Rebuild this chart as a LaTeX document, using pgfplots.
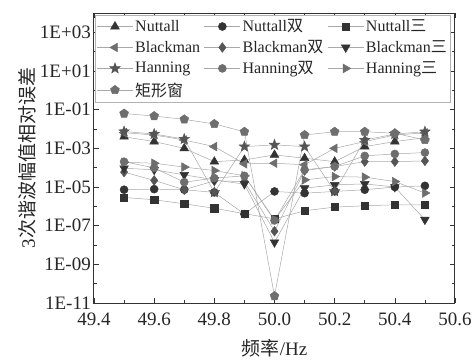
\documentclass[border=0pt]{standalone}
\usepackage{fontspec}
\setmainfont{Liberation Serif}
\newfontfamily\cjk{Noto Sans CJK SC}
\usepackage{pgfplots}
\pgfplotsset{compat=1.18}
\usetikzlibrary{plotmarks}

\pgfdeclareplotmark{fstar}{%
  \pgfpathmoveto{\pgfpointpolar{90}{\pgfplotmarksize}}%
  \pgfpathlineto{\pgfpointpolar{126}{0.42\pgfplotmarksize}}%
  \pgfpathlineto{\pgfpointpolar{162}{\pgfplotmarksize}}%
  \pgfpathlineto{\pgfpointpolar{198}{0.42\pgfplotmarksize}}%
  \pgfpathlineto{\pgfpointpolar{234}{\pgfplotmarksize}}%
  \pgfpathlineto{\pgfpointpolar{270}{0.42\pgfplotmarksize}}%
  \pgfpathlineto{\pgfpointpolar{306}{\pgfplotmarksize}}%
  \pgfpathlineto{\pgfpointpolar{342}{0.42\pgfplotmarksize}}%
  \pgfpathlineto{\pgfpointpolar{18}{\pgfplotmarksize}}%
  \pgfpathlineto{\pgfpointpolar{54}{0.42\pgfplotmarksize}}%
  \pgfpathclose
  \pgfusepathqfillstroke
}

\definecolor{mdark}{HTML}{333333}
\definecolor{mmid}{HTML}{555555}
\definecolor{mgrey}{HTML}{6E6E6E}
\definecolor{lgrey}{HTML}{A8A8A8}

\pgfplotstableread{
x      nut      nut2     nut3     bla      bla2     bla3     han      han2     han3     rect
49.5   3.98e-3  7.24e-6  2.88e-6  6.46e-3  5.89e-5  9.33e-5  7.41e-3  2.04e-4  1.91e-4  6.31e-2
49.6   2.24e-3  7.76e-6  2.19e-6  4.90e-3  2.19e-5  7.76e-5  5.50e-3  9.77e-5  1.70e-4  4.68e-2
49.7   1.00e-3  7.24e-6  1.35e-6  2.69e-3  7.24e-6  4.27e-5  3.02e-3  1.78e-5  1.07e-4  3.16e-2
49.8   2.04e-4  5.25e-6  7.94e-7  1.23e-3  2.09e-5  2.34e-5  5.25e-6  2.88e-5  7.08e-5  1.82e-2
49.9   2.51e-4  3.98e-7  4.17e-7  1.58e-4  1.91e-5  1.41e-5  1.23e-3  3.80e-5  3.80e-5  7.24e-3
50.0   4.57e-4  5.89e-6  2.24e-7  1.70e-4  5.13e-8  1.38e-8  1.51e-3  1.86e-7  2.00e-7  2.29e-11
50.1   3.09e-4  4.79e-6  5.89e-7  1.41e-4  7.08e-5  8.71e-6  1.23e-3  7.76e-5  2.34e-5  4.90e-3
50.2   2.04e-4  5.89e-6  9.12e-7  1.00e-3  1.15e-4  1.29e-5  5.89e-6  1.15e-4  3.47e-5  7.24e-3
50.3   1.23e-3  7.24e-6  1.07e-6  2.24e-3  2.04e-4  1.45e-5  2.69e-3  4.07e-4  3.24e-5  7.24e-3
50.4   2.24e-3  1.00e-5  1.20e-6  4.90e-3  2.04e-4  1.00e-5  5.50e-3  5.13e-4  1.91e-5  6.03e-3
50.5   3.55e-3  1.15e-5  1.20e-6  6.31e-3  2.24e-4  2.04e-7  7.24e-3  6.03e-4  4.90e-6  2.69e-3
}\datatable

\begin{document}
\begin{tikzpicture}
\begin{axis}[
  name=ax,
  width=361pt, height=290pt, scale only axis,
  xmin=49.4, xmax=50.6,
  ymode=log, ymin=1e-11, ymax=1e4,
  xtick={49.4,49.6,49.8,50.0,50.2,50.4,50.6},
  xticklabels={49.4,49.6,49.8,50.0,50.2,50.4,50.6},
  minor xtick={49.5,49.7,49.9,50.1,50.3,50.5},
  ytick={1e-11,1e-9,1e-7,1e-5,1e-3,1e-1,1e1,1e3},
  yticklabels={1E-11,1E-09,1E-07,1E-05,1E-03,1E-01,1E+01,1E+03},
  minor ytick={1e-10,1e-8,1e-6,1e-4,1e-2,1e0,1e2},
  tick label style={font=\fontsize{19}{21}\selectfont, black!85},
  xticklabel style={yshift=-6pt},
  yticklabel style={inner xsep=3pt},
  label style={font=\fontsize{19}{21}\selectfont, black!85, inner sep=1pt},
  xlabel={{\cjk 频率}/Hz},
  ylabel={3{\cjk 次谐波幅值相对误差}},
  xlabel style={at={(axis description cs:0.5,-0.157)}, anchor=center},
  ylabel style={at={(axis description cs:-0.184,0.5)}, anchor=center},
  axis line style={line width=1pt, black!80},
  major tick length=5pt, minor tick length=3pt,
  tick style={black!80, line width=0.6pt},
  every axis plot/.append style={line width=0.5pt, color=lgrey},
  legend columns=3,
  legend cell align=left,
  legend style={at={(0.004,0.994)}, anchor=north west, draw=gray!60, line width=0.6pt,
    font=\fontsize{16}{18}\selectfont, text=black!85, inner sep=1pt, row sep=0pt,
    nodes={inner ysep=3.6pt, inner xsep=2pt},
    /tikz/every even column/.append style={column sep=2pt}},
  legend image code/.code={\draw[mark repeat=2,mark phase=2] plot coordinates {(0pt,0pt)(18pt,0pt)(36pt,0pt)};},
]
\addplot[mark=triangle*, mark size=5pt, mark options={draw=mdark, fill=mdark}] table[x=x,y=nut] {\datatable};
\addlegendentry{Nuttall}
\addplot[mark=*, mark size=4pt, mark options={draw=mdark, fill=mdark}] table[x=x,y=nut2] {\datatable};
\addlegendentry{Nuttall{\cjk 双}}
\addplot[mark=square*, mark size=3.6pt, mark options={draw=mdark, fill=mdark}] table[x=x,y=nut3] {\datatable};
\addlegendentry{Nuttall{\cjk 三}}
\addplot[mark=triangle*, mark size=5pt, mark options={draw=mgrey, fill=mgrey, rotate=90}] table[x=x,y=bla] {\datatable};
\addlegendentry{Blackman}
\addplot[mark=diamond*, mark size=4.8pt, mark options={draw=mmid, fill=mmid}] table[x=x,y=bla2] {\datatable};
\addlegendentry{Blackman{\cjk 双}}
\addplot[mark=triangle*, mark size=5pt, mark options={draw=mdark, fill=mdark, rotate=180}] table[x=x,y=bla3] {\datatable};
\addlegendentry{Blackman{\cjk 三}}
\addplot[mark=fstar, mark size=5.5pt, mark options={draw=mmid, fill=mmid}] table[x=x,y=han] {\datatable};
\addlegendentry{Hanning}
\addplot[mark=*, mark size=4pt, mark options={draw=mgrey, fill=mgrey}] table[x=x,y=han2] {\datatable};
\addlegendentry{Hanning{\cjk 双}}
\addplot[mark=triangle*, mark size=5pt, mark options={draw=mgrey, fill=mgrey, rotate=-90}] table[x=x,y=han3] {\datatable};
\addlegendentry{Hanning{\cjk 三}}
\addplot[mark=pentagon*, mark size=4.6pt, mark options={draw=mgrey, fill=mgrey}] table[x=x,y=rect] {\datatable};
\addlegendentry{{\cjk 矩形窗}}
\end{axis}
\pgfresetboundingbox
\path ([shift={(-94pt,-57pt)}]ax.south west) rectangle ([shift={(20pt,13pt)}]ax.north east);
\end{tikzpicture}
\end{document}
